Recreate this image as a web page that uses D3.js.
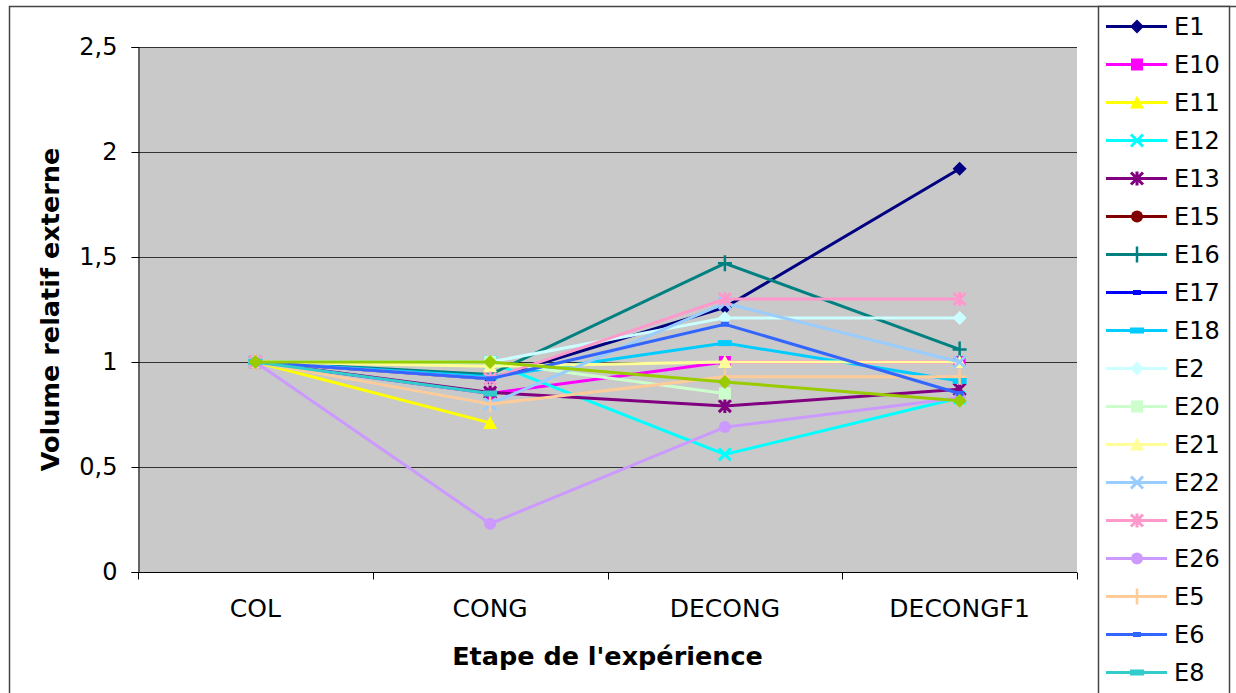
<!DOCTYPE html>
<html><head><meta charset="utf-8">
<script src="https://cdn.jsdelivr.net/npm/d3@7"></script>
<style>body{margin:0;background:#fff}svg{display:block}</style>
</head><body>
<svg id="c" width="1236" height="693"></svg>
<script>
const categories = ["COL", "CONG", "DECONG", "DECONGF1"];
const seriesNames = ["E1","E10","E11","E12","E13","E15","E16","E17","E18","E2","E20","E21","E22","E25","E26","E5","E6","E8","E9"];
const E1  = [1, 0.92, 1.26, 1.92];
const E10 = [1, 0.85, 1.00, 1.00];
const E11 = [1, 0.71, null, null];
const E12 = [1, 1.00, 0.56, 0.83];
const E13 = [1, 0.855, 0.79, 0.87];
const E15 = [1, null, null, null];
const E16 = [1, 0.94, 1.47, 1.06];
const E17 = [1, 0.925, null, null];
const E18 = [1, 0.93, 1.09, 0.91];
const E2  = [1, 1.00, 1.21, 1.21];
const E20 = [1, 1.00, 0.85, null];
const E21 = [1, 0.98, 1.00, 1.00];
const E22 = [1, 0.80, 1.28, 1.00];
const E25 = [1, 0.92, 1.30, 1.30];
const E26 = [1, 0.23, 0.69, 0.83];
const E5  = [1, 0.80, 0.93, 0.93];
const E6  = [1, 0.92, 1.18, 0.85];
const E8  = [1, 0.85, null, null];
const E9  = [1, 1.00, 0.905, 0.815];
const seriesValues = [E1,E10,E11,E12,E13,E15,E16,E17,E18,E2,E20,E21,E22,E25,E26,E5,E6,E8,E9];
const seriesColors = ["#000080","#FF00FF","#FFFF00","#00FFFF","#800080","#800000","#008080","#0000FF","#00CCFF","#CCFFFF","#CCFFCC","#FFFF99","#99CCFF","#FF99CC","#CC99FF","#FFCC99","#3366FF","#33CCCC","#99CC00"];
const markerCycle = ["diamond","square","triangle","x","star","circle","plus","shortbar","longbar"];
const yTickValues = [0, 0.5, 1, 1.5, 2, 2.5];
const yTickLabels = ["0", "0,5", "1", "1,5", "2", "2,5"];
const xTitle = "Etape de l'expérience";
const yTitle = "Volume relatif externe";

const svg = d3.select("#c");
const L = 138, R = 1077, T = 47, B = 572;
const FONT = "'DejaVu Sans', Verdana, sans-serif";

// outer border
svg.append("rect").attr("x", 9.5).attr("y", 6.5).attr("width", 1300).attr("height", 800)
  .attr("fill", "#fff").attr("stroke", "#444").attr("stroke-width", 1.5);

const x = d3.scaleBand().domain(categories).range([L, R]);
const cx = c => x(c) + x.bandwidth() / 2;
const y = d3.scaleLinear().domain([0, 2.5]).range([B, T]);

// plot area
svg.append("rect").attr("x", L).attr("y", T).attr("width", R - L).attr("height", B - T).attr("fill", "#c9c9c9");

// gridlines
svg.append("g").selectAll("line").data(yTickValues.filter(v => v > 0)).join("line")
  .attr("x1", L).attr("x2", R).attr("y1", d => Math.round(y(d)) + 0.5).attr("y2", d => Math.round(y(d)) + 0.5)
  .attr("stroke", "#333").attr("stroke-width", 1);

// y axis
const yAxis = d3.axisLeft(y).tickValues(yTickValues).tickSize(7).tickPadding(14)
  .tickFormat((d, i) => yTickLabels[i]);
const gy = svg.append("g").attr("transform", `translate(${L + 0.5},0)`).call(yAxis);
gy.select(".domain").attr("stroke", "#000");
gy.selectAll("line").attr("stroke", "#000");
gy.selectAll("text").attr("font-family", FONT).attr("font-size", 24).attr("fill", "#000");

// x axis
const xAxis = d3.axisBottom(x).tickSize(0).tickPadding(27);
const gx = svg.append("g").attr("transform", `translate(0,${B + 0.5})`).call(xAxis);
gx.select(".domain").attr("stroke", "#000").attr("d", `M${L},0H${R}`);
gx.selectAll("text").attr("font-family", FONT).attr("font-size", 25).attr("fill", "#000");
const bounds = categories.map(c => x(c)).concat([R]);
gx.append("g").selectAll("line").data(bounds).join("line")
  .attr("x1", d => Math.round(d) + 0.5).attr("x2", d => Math.round(d) + 0.5).attr("y1", 0).attr("y2", 7).attr("stroke", "#000");

// titles
svg.append("text").attr("x", (L + R) / 2).attr("y", 665).attr("text-anchor", "middle")
  .attr("font-family", FONT).attr("font-weight", "bold").attr("font-size", 25.5).text(xTitle);
svg.append("text").attr("transform", `translate(59,${(T + B) / 2}) rotate(-90)`).attr("text-anchor", "middle")
  .attr("font-family", FONT).attr("font-weight", "bold").attr("font-size", 25.5).text(yTitle);

function drawMarker(g, type, px, py, color) {
  const s = 7;
  switch (type) {
    case "diamond": g.append("path").attr("d", `M${px},${py - s}L${px + s},${py}L${px},${py + s}L${px - s},${py}Z`).attr("fill", color); break;
    case "square": g.append("rect").attr("x", px - 6).attr("y", py - 6).attr("width", 12).attr("height", 12).attr("fill", color); break;
    case "triangle": g.append("path").attr("d", `M${px},${py - 7}L${px + 7},${py + 6}L${px - 7},${py + 6}Z`).attr("fill", color); break;
    case "x": g.append("path").attr("d", `M${px - 6},${py - 6}L${px + 6},${py + 6}M${px - 6},${py + 6}L${px + 6},${py - 6}`).attr("stroke", color).attr("stroke-width", 3); break;
    case "star": g.append("path").attr("d", `M${px - 6},${py - 6}L${px + 6},${py + 6}M${px - 6},${py + 6}L${px + 6},${py - 6}M${px},${py - 7}L${px},${py + 7}`).attr("stroke", color).attr("stroke-width", 3); break;
    case "circle": g.append("circle").attr("cx", px).attr("cy", py).attr("r", 6).attr("fill", color); break;
    case "plus": g.append("path").attr("d", `M${px - 7},${py}L${px + 7},${py}M${px},${py - 8}L${px},${py + 8}`).attr("stroke", color).attr("stroke-width", 2.5); break;
    case "shortbar": g.append("rect").attr("x", px - 4).attr("y", py - 2.5).attr("width", 8).attr("height", 5).attr("fill", color); break;
    case "longbar": g.append("rect").attr("x", px - 7).attr("y", py - 3).attr("width", 14).attr("height", 6).attr("fill", color); break;
  }
}

// series
const line = d3.line().defined(d => d.v != null).x(d => cx(d.c)).y(d => y(d.v));
seriesNames.forEach((name, i) => {
  const color = seriesColors[i];
  const pts = categories.map((c, j) => ({ c, v: seriesValues[i][j] }));
  const g = svg.append("g");
  g.append("path").attr("d", line(pts)).attr("fill", "none").attr("stroke", color).attr("stroke-width", 3);
  pts.filter(p => p.v != null).forEach(p => drawMarker(g, markerCycle[i % markerCycle.length], cx(p.c), y(p.v), color));
});

// legend (entries beyond the chart's lower edge are clipped, as in the original)
const lg = svg.append("g");
lg.append("rect").attr("x", 1098.5).attr("y", 6.5).attr("width", 131).attr("height", 800)
  .attr("fill", "#fff").attr("stroke", "#444").attr("stroke-width", 1.5);
seriesNames.forEach((name, i) => {
  const ly = 26.5 + 38 * i;
  if (ly > 680) return;
  const color = seriesColors[i];
  lg.append("line").attr("x1", 1106).attr("x2", 1167).attr("y1", ly).attr("y2", ly).attr("stroke", color).attr("stroke-width", 3);
  drawMarker(lg, markerCycle[i % markerCycle.length], 1137, ly, color);
  lg.append("text").attr("x", 1174).attr("y", ly).attr("dy", "0.36em")
    .attr("font-family", FONT).attr("font-size", 24).attr("fill", "#000").text(name);
});
</script>
</body></html>
